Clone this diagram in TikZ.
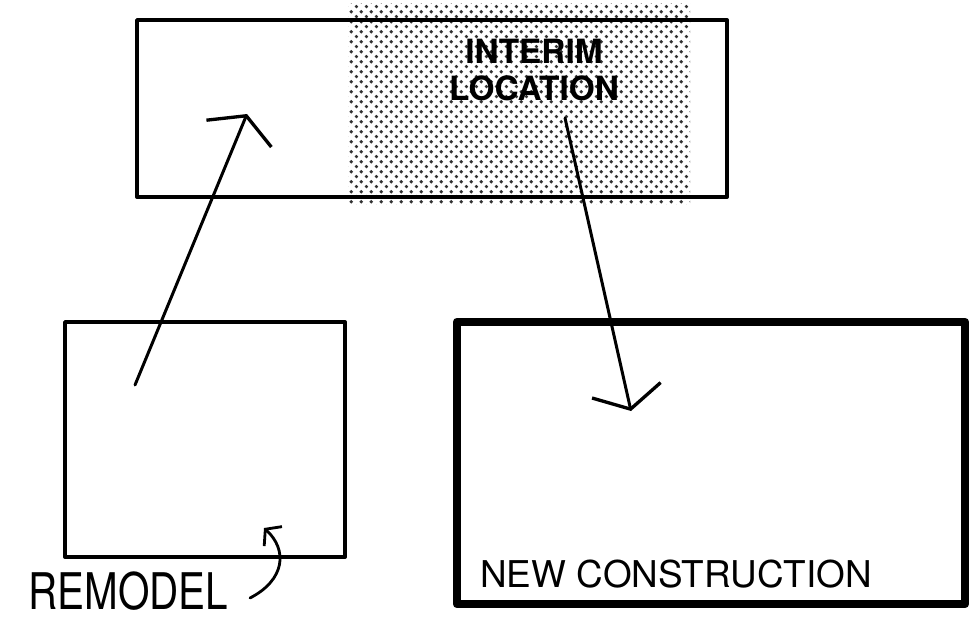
\documentclass[tikz,border=0pt]{standalone}
\usepackage{fontspec}
\setsansfont{TeX Gyre Heros}
\usetikzlibrary{arrows.meta,patterns.meta}

% stipple screen for the interim location
\tikzdeclarepattern{
  name=stipple, type=uncolored,
  bounding box={(0pt,0pt) and (5.6pt,5.6pt)},
  tile size={(5.6pt,5.6pt)},
  code={
    \fill (1.4pt,1.4pt) circle (1.05pt);
    \fill (4.2pt,4.2pt) circle (1.05pt);
  }
}

\begin{document}
\begin{tikzpicture}[
    x=0.02cm, y=-0.02cm,
    plan/.style={line width=2.2pt, line join=round, line cap=round},
    newplan/.style={line width=5pt, line join=round},
    move/.style={line width=1.7pt, line cap=round,
      -{Straight Barb[length=11pt, width=40pt, line width=1.9pt]}},
    note/.style={line width=1.6pt, line cap=round,
      -{Straight Barb[length=6pt, width=15pt, line width=1.6pt]}},
    label/.style={font=\sffamily, inner sep=0pt}
]
\useasboundingbox (0,0) rectangle (970,622);

% interim location
\fill[pattern=stipple, pattern color=black!80] (348,3) rectangle (690,204);
\draw[plan] (137,20) rectangle (727,197);
\node[label, font=\sffamily\bfseries\fontsize{19}{21}\selectfont, align=center]
  (interim) at (534,70) {INTERIM\\LOCATION};

% remodel
\draw[plan] (65,322) rectangle (345,557);
\node[label, anchor=base west, yscale=1.25, font=\sffamily\fontsize{23}{26}\selectfont]
  (remodel) at (28,609) {REMODEL};

% new construction
\draw[newplan] (457,322) rectangle (965,604);
\node[label, anchor=base west, font=\sffamily\fontsize{21}{24}\selectfont]
  (newcon) at (480,587) {NEW CONSTRUCTION};

% moves
\coordinate (oldspot) at (135,385);
\coordinate (tempspot) at (247,114);
\coordinate (tempout) at (565,118);
\coordinate (newspot) at (631,411);
\coordinate (notetail) at (250,598);
\coordinate (notehead) at (264,528);

\draw[move] (oldspot) -- (tempspot);
\draw[move] (tempout) -- (newspot);
\draw[note] (notetail) .. controls (285,580) and (288,550) .. (notehead);
\end{tikzpicture}
\end{document}
